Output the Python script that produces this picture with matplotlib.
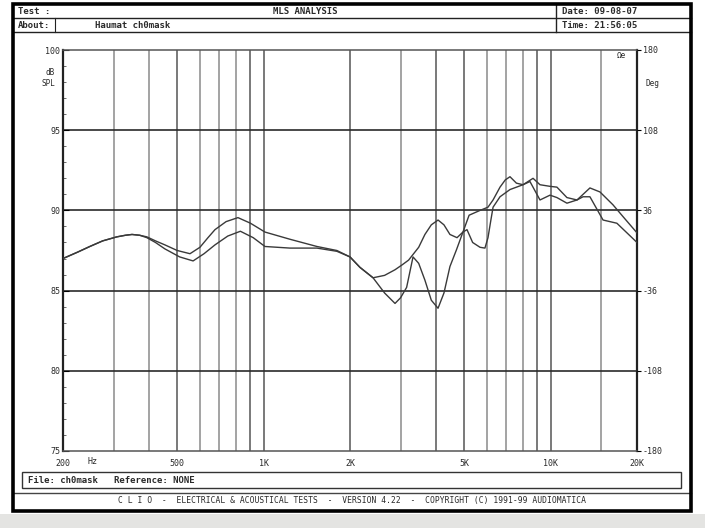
import matplotlib
matplotlib.use("Agg")
import matplotlib.pyplot as plt
from matplotlib.lines import Line2D
from matplotlib.patches import Rectangle

# ---------------- data ----------------
freq_a = [200, 225, 248, 275, 308, 330, 348, 370, 392, 420, 453, 500, 554, 600, 640, 677, 740, 814, 900, 1011,
          1236, 1534, 1800, 2000, 2166, 2406,
          2640, 2870, 3000, 3150, 3316, 3470, 3648, 3840, 4053, 4250, 4459, 4700, 4950, 5200,
          5676, 6050, 6302, 6664, 6950, 7219, 7600, 8014, 8686, 9184, 9952, 10520, 11400,
          12360, 13710, 14860, 16490, 18100, 20000]
spl_a = [87.0, 87.4, 87.75, 88.1, 88.35, 88.45, 88.5, 88.45, 88.35, 88.1, 87.85, 87.5, 87.3, 87.7, 88.3, 88.8, 89.3, 89.55, 89.2, 88.65,
         88.2, 87.75, 87.5, 87.1, 86.45, 85.8,
         84.85, 84.2, 84.55, 85.2, 87.1, 86.7, 85.65, 84.4, 83.9, 84.85, 86.5, 87.55, 88.65, 89.7,
         90.0, 90.2, 90.65, 91.45, 91.9, 92.1, 91.7, 91.6, 92.0, 91.6, 91.5, 91.45, 90.8,
         90.65, 91.4, 91.15, 90.35, 89.5, 88.6]

freq_b = [200, 225, 248, 275, 308, 330, 348, 370, 392, 420, 453, 510, 568, 620, 677, 750, 830, 920, 1011,
          1236, 1534, 1800, 2000, 2166, 2406,
          2640, 2870, 3036, 3200, 3470, 3648, 3840, 4053, 4250, 4459, 4720, 4950, 5113, 5350,
          5676, 5905, 6051, 6180, 6302, 6664, 7219, 8014, 8473, 9184, 9952, 10520, 11400,
          12360, 12970, 13710, 15230, 17020, 20000]
spl_b = [87.0, 87.4, 87.75, 88.1, 88.35, 88.45, 88.5, 88.45, 88.3, 88.0, 87.6, 87.1, 86.85, 87.3, 87.85, 88.4, 88.7, 88.3, 87.75,
         87.65, 87.65, 87.45, 87.1, 86.45, 85.8,
         85.95, 86.3, 86.6, 86.9, 87.7, 88.5, 89.1, 89.4, 89.1, 88.5, 88.3, 88.65, 88.8, 88.0,
         87.7, 87.65, 88.3, 89.3, 90.2, 90.85, 91.3, 91.6, 91.8, 90.65, 90.95, 90.8, 90.45,
         90.65, 90.85, 90.85, 89.4, 89.2, 88.0]

grid_freqs = [300, 400, 500, 600, 700, 800, 900, 1000, 2000, 3000, 4000, 5000, 6000, 7000,
              8000, 9000, 10000, 15000]
xtick_vals = [200, 500, 1000, 2000, 5000, 10000, 20000]
xtick_labels = ["200", "500", "1K", "2K", "5K", "10K", "20K"]
ytick_vals = [75, 80, 85, 90, 95, 100]
ytick_labels = ["75", "80", "85", "90", "95", "100"]
phase_labels = ["-180", "-108", "-36", "36", "108", "180"]

header_title = "MLS ANALYSIS"
test_label = "Test :"
about_label = "About:"
about_text = "Haumat ch0mask"
date_text = "Date: 09-08-07"
time_text = "Time: 21:56:05"
file_text = "File: ch0mask   Reference: NONE"
footer_text = "C L I O  -  ELECTRICAL & ACOUSTICAL TESTS  -  VERSION 4.22  -  COPYRIGHT (C) 1991-99 AUDIOMATICA"

# ---------------- figure ----------------
W, H = 705, 528
fig = plt.figure(figsize=(W / 100, H / 100), dpi=100)
fig.patch.set_facecolor("white")

def fx(x):
    return x / W

def fy(y):
    return 1 - y / H

mono = "DejaVu Sans Mono"
tcol = "#2a2a2a"

# gray band at the bottom of the scan
fig.patches.append(Rectangle((0, 0), 1, fy(514), transform=fig.transFigure,
                             facecolor="#e4e4e2", edgecolor="none", zorder=0))

# outer frame
fig.patches.append(Rectangle((fx(13), fy(511)), fx(691 - 13), (511 - 4) / H, transform=fig.transFigure,
                             facecolor="none", edgecolor="black", linewidth=2.6, zorder=5))

def hline(y, x0=13, x1=691, lw=1.0, c="#222"):
    fig.add_artist(Line2D([fx(x0), fx(x1)], [fy(y), fy(y)], transform=fig.transFigure,
                          color=c, linewidth=lw))

def vline(x, y0, y1, lw=1.0, c="#222"):
    fig.add_artist(Line2D([fx(x), fx(x)], [fy(y0), fy(y1)], transform=fig.transFigure,
                          color=c, linewidth=lw))

# header
hline(18)
hline(32)
vline(556, 4, 32)
vline(55, 18, 32, lw=0.8)
fig.text(fx(18), fy(11), test_label, fontsize=6.5, family=mono, color=tcol, va="center", weight="bold")
fig.text(fx(305), fy(11), header_title, fontsize=6.5, family=mono, color=tcol, va="center", ha="center", weight="bold")
fig.text(fx(18), fy(25), about_label, fontsize=6.5, family=mono, color=tcol, va="center", weight="bold")
fig.text(fx(95), fy(25), about_text, fontsize=6.5, family=mono, color=tcol, va="center", weight="bold")
fig.text(fx(562), fy(11), date_text, fontsize=6.5, family=mono, color=tcol, va="center", weight="bold")
fig.text(fx(562), fy(25), time_text, fontsize=6.5, family=mono, color=tcol, va="center", weight="bold")

# file box and footer
fig.patches.append(Rectangle((fx(22), fy(488)), fx(681 - 22), (488 - 472) / H, transform=fig.transFigure,
                             facecolor="none", edgecolor="#333", linewidth=1.0, zorder=5))
fig.text(fx(28), fy(480.5), file_text, fontsize=6.5, family=mono, color=tcol, va="center", weight="bold")
hline(493, lw=1.0, c="#444")
fig.text(fx(352), fy(501), footer_text, fontsize=5.8, family=mono, color=tcol, va="center", ha="center")

# ---------------- plot ----------------
ax = fig.add_axes([fx(63), fy(451), (637 - 63) / W, (451 - 50) / H])
ax.set_xscale("log")
ax.set_xlim(200, 20000)
ax.set_ylim(75, 100)

for f in grid_freqs:
    major = f in (500, 1000, 2000, 5000, 10000, 900, 4000, 9000)
    ax.axvline(f, color="#555" if major else "#8a8a8a", linewidth=1.1, zorder=1)
for v in ytick_vals[1:-1]:
    ax.axhline(v, color="#2a2a2a", linewidth=1.2, zorder=1)

ax.plot(freq_b, spl_b, color="#3a3a3a", linewidth=1.0, zorder=3)
ax.plot(freq_a, spl_a, color="#3a3a3a", linewidth=1.0, zorder=3)

for s in ["left", "right"]:
    ax.spines[s].set_linewidth(1.6)
    ax.spines[s].set_color("#222")
for s in ["top", "bottom"]:
    ax.spines[s].set_linewidth(1.1)
    ax.spines[s].set_color("#555")

ax.set_xticks(xtick_vals)
ax.set_xticklabels(xtick_labels)
ax.set_xticks([], minor=True)
ax.set_yticks(ytick_vals)
ax.set_yticklabels(ytick_labels)
ax.set_yticks(range(75, 101), minor=True)
ax.tick_params(axis="x", which="major", direction="in", length=0, pad=6,
               labelsize=6, labelcolor=tcol, labelfontfamily=mono)
ax.tick_params(axis="y", which="major", direction="in", length=4, pad=2,
               labelsize=6, labelcolor=tcol, labelfontfamily=mono, left=True, right=False)
ax.tick_params(axis="y", which="minor", direction="in", length=2.5, left=True, right=True, color="#555")

ax2 = ax.twinx()
ax2.set_ylim(ax.get_ylim())
ax2.set_yticks(ytick_vals)
ax2.set_yticklabels(phase_labels)
ax2.tick_params(axis="y", direction="out", length=3, pad=1, labelsize=6,
                labelcolor=tcol, labelfontfamily=mono)
for s in ax2.spines.values():
    s.set_visible(False)

# axis unit texts
fig.text(fx(46), fy(73), "dB", fontsize=5.5, family=mono, color=tcol, va="center")
fig.text(fx(42), fy(83), "SPL", fontsize=5.5, family=mono, color=tcol, va="center")
fig.text(fx(646), fy(84), "Deg", fontsize=5.5, family=mono, color=tcol, va="center")
fig.text(fx(88), fy(461.5), "Hz", fontsize=6, family=mono, color=tcol, va="center")
fig.text(fx(617), fy(56), "\u03a9e", fontsize=5.5, family=mono, color=tcol, va="center")

fig.savefig("out.png", dpi=100)
